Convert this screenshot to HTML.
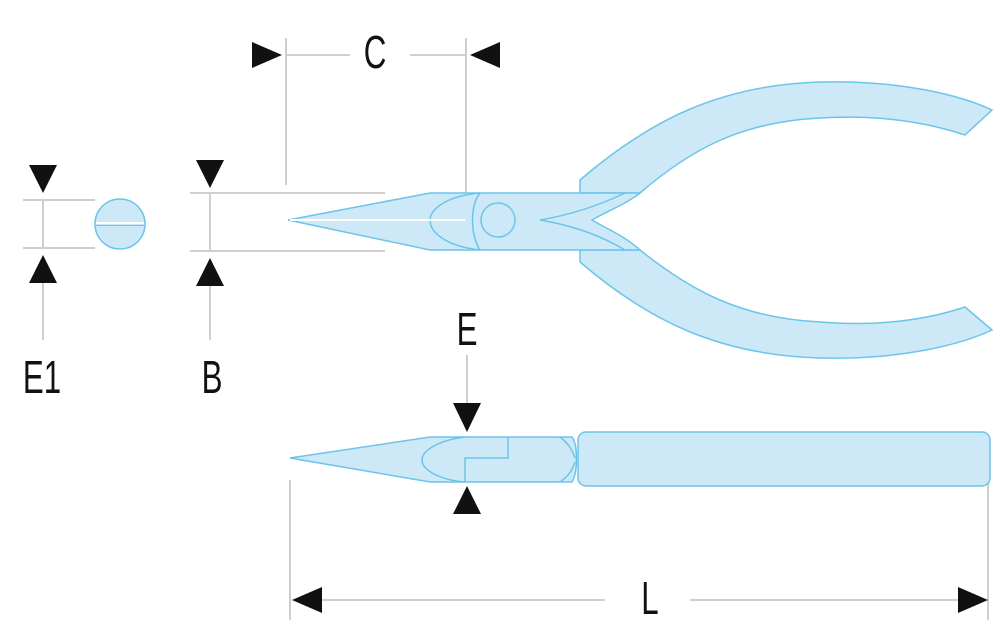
<!DOCTYPE html>
<html><head><style>body{margin:0;background:#fff}svg{display:block}
text{font-family:"Liberation Sans",sans-serif;font-size:46px;fill:#111}</style></head>
<body>
<svg width="1000" height="640" viewBox="0 0 1000 640">
<g stroke="#cfcfcf" stroke-width="2" fill="none">
<line x1="286" y1="38" x2="286" y2="185"/><line x1="466" y1="38" x2="466" y2="210"/>
<line x1="286" y1="55" x2="350" y2="55"/><line x1="410" y1="55" x2="466" y2="55"/>
<line x1="23" y1="200" x2="95" y2="200"/><line x1="23" y1="248" x2="95" y2="248"/>
<line x1="43" y1="200" x2="43" y2="248"/><line x1="43" y1="283" x2="43" y2="340"/>
<line x1="190" y1="193" x2="385" y2="193"/><line x1="190" y1="251" x2="385" y2="251"/>
<line x1="210" y1="193" x2="210" y2="251"/><line x1="210" y1="286" x2="210" y2="340"/>
<line x1="467" y1="355" x2="467" y2="403"/>
<line x1="290" y1="480" x2="290" y2="620"/><line x1="988" y1="480" x2="988" y2="620"/>
<line x1="320" y1="600" x2="605" y2="600"/><line x1="690" y1="600" x2="960" y2="600"/>
</g>
<g fill="#111">
<polygon points="252,42 252,68 282,55"/><polygon points="500,42 500,68 470,55"/>
<polygon points="29,165 57,165 43,193"/><polygon points="29,283 57,283 43,255"/>
<polygon points="196,160 224,160 210,188"/><polygon points="196,286 224,286 210,258"/>
<polygon points="453,403 481,403 467,432"/><polygon points="453,514 481,514 467,486"/>
<polygon points="322,587 322,613 292,600"/><polygon points="958,587 958,613 988,600"/>
</g>
<g fill="#cde9f7" stroke="#6cc4ea" stroke-width="1.5">
<circle cx="120" cy="224" r="25"/>
<path d="M580,193 L580,180 C650,120 720,85 820,82 C900,80 960,95 992,110 L965,135 C920,120 870,115 820,118 C740,122 690,150 640,193 Z"/>
<path d="M580,250 L580,262 C650,322 720,355 820,358 C900,360 960,345 992,330 L965,307 C920,322 870,326 820,322 C740,318 690,290 640,250 Z"/>
<path d="M288,220 L430,193 L640,193 C625,205 605,212 592,220 C605,228 625,236 640,250 L430,250 Z"/>
<path d="M480,193 C445,196 430,210 430,220 C430,232 445,246 480,250" fill="none"/>
<path d="M480,193 C470,205 470,235 480,250" fill="none"/>
<path d="M540,220 C570,215 600,205 625,193 M540,220 C570,225 600,235 625,250" fill="none"/>
<circle cx="498" cy="220" r="17"/>
<line x1="290" y1="220" x2="465" y2="220" stroke="#fff" stroke-width="2"/>
<path d="M290,458 L430,437 L572,437 C578,445 578,472 572,482 L430,482 Z"/>
<path d="M465,437 C440,440 422,450 422,460 C422,470 440,480 465,482 M465,482 L465,458 L508,458 L508,437 M560,437 C570,445 572,450 575,458 M560,482 C570,475 572,470 575,462" fill="none"/>
<rect x="578" y="432" width="412" height="54" rx="8"/>
</g>
<line x1="96" y1="223" x2="144" y2="223" stroke="#fff" stroke-width="2"/>
<line x1="96" y1="225.5" x2="144" y2="225.5" stroke="#6cc4ea" stroke-width="1"/>
<text transform="translate(375,68) scale(0.68,1)" text-anchor="middle">C</text>
<text transform="translate(42,393) scale(0.68,1)" text-anchor="middle">E1</text>
<text transform="translate(212,393) scale(0.68,1)" text-anchor="middle">B</text>
<text transform="translate(467,345) scale(0.68,1)" text-anchor="middle">E</text>
<text transform="translate(650,614) scale(0.68,1)" text-anchor="middle">L</text>
</svg>
</body></html>
